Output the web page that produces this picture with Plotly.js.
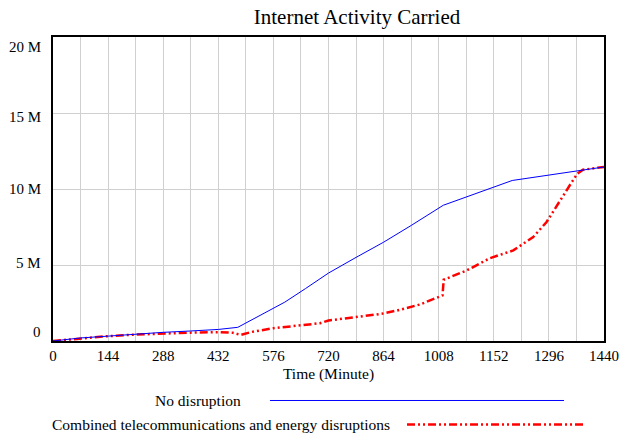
<!DOCTYPE html>
<html>
<head>
<meta charset="utf-8">
<script src="https://cdn.plot.ly/plotly-3.0.1.min.js"></script>
<style>html,body{margin:0;padding:0;background:#fff;}#chart{width:621px;height:434px;}</style>
</head>
<body>
<div id="chart"></div>
<script>
// Time (minutes) and values (millions)
const noDisruptionTime = [0, 24, 72, 144, 216, 288, 360, 432, 483, 540, 606, 660, 720, 792, 864, 936, 1020, 1200, 1296, 1370, 1440];
const noDisruptionValues = [0, 0.08, 0.2, 0.32, 0.45, 0.57, 0.66, 0.76, 0.9, 1.65, 2.56, 3.45, 4.47, 5.5, 6.5, 7.6, 8.93, 10.56, 10.92, 11.2, 11.45];

const combinedTime = [0, 24, 72, 144, 216, 288, 360, 432, 470, 490, 520, 576, 606, 645, 698, 720, 794, 859, 898, 959, 1018, 1021, 1081, 1142, 1203, 1255, 1290, 1325, 1356, 1370, 1385, 1440];
const combinedValues = [0, 0.06, 0.18, 0.32, 0.42, 0.5, 0.55, 0.58, 0.54, 0.4, 0.6, 0.84, 0.91, 1.02, 1.17, 1.35, 1.61, 1.79, 2.0, 2.4, 3.0, 4.03, 4.64, 5.45, 5.96, 6.84, 7.83, 9.26, 10.46, 11.0, 11.27, 11.45];

const xTickVals = [0, 144, 288, 432, 576, 720, 864, 1008, 1152, 1296, 1440];
const yTickVals = [0, 5, 10, 15, 20];
const yTickText = ["0", "5 M", "10 M", "15 M", "20 M"];
const yLabelShift = [9, 2, 0, -4, -10];

const seriesNames = ["No disruption", "Combined telecommunications and energy disruptions"];

const serif = "Liberation Serif";

const traces = [
  {x: combinedTime, y: combinedValues, mode: "lines", name: seriesNames[1],
   line: {color: "#ff0000", width: 2.5, dash: "8px,3px,2px,3px,2px,3px"}, showlegend: false},
  {x: noDisruptionTime, y: noDisruptionValues, mode: "lines", name: seriesNames[0],
   line: {color: "#0000ff", width: 1}, showlegend: false}
];

const annotations = yTickVals.map((v, i) => ({
  x: 0, xref: "paper", y: v, yref: "y", text: yTickText[i], showarrow: false,
  xanchor: "right", yanchor: "middle", xshift: -10, yshift: yLabelShift[i],
  font: {family: serif, size: 15, color: "#000"}
}));

// legend labels
annotations.push({x: 0.3448, xref: "paper", y: -0.1957, yref: "paper", text: seriesNames[0],
  showarrow: false, xanchor: "right", yanchor: "middle", font: {family: serif, size: 15.5, color: "#000"}});
annotations.push({x: 0.6152, xref: "paper", y: -0.2747, yref: "paper", text: seriesNames[1],
  showarrow: false, xanchor: "right", yanchor: "middle", font: {family: serif, size: 15.5, color: "#000"}});

const shapes = [
  {type: "line", xref: "paper", yref: "paper", x0: 0.3938, x1: 0.9274, y0: -0.1957, y1: -0.1957,
   line: {color: "#0000ff", width: 1}},
  {type: "line", xref: "paper", yref: "paper", x0: 0.6425, x1: 0.9619, y0: -0.2747, y1: -0.2747,
   line: {color: "#ff0000", width: 2.5, dash: "8px,3px,2px,3px,2px,3px"}}
];

const layout = {
  width: 621, height: 434,
  margin: {l: 53, r: 17, t: 37, b: 93, pad: 0},
  paper_bgcolor: "#fff", plot_bgcolor: "#fff",
  font: {family: serif, color: "#000"},
  title: {text: "Internet Activity Carried", x: 0.5749, xref: "container", xanchor: "center",
          y: 0.9608, yref: "container", yanchor: "middle", font: {family: serif, size: 21, color: "#000"}},
  xaxis: {
    range: [0, 1440], tickvals: xTickVals, ticks: "", showgrid: true, gridcolor: "#d0d0d0", gridwidth: 1,
    minor: {dtick: 72, showgrid: true, gridcolor: "#d0d0d0", gridwidth: 1},
    showline: true, linecolor: "#000", linewidth: 2, mirror: true, zeroline: false,
    tickfont: {family: serif, size: 15, color: "#000"},
    title: {text: "Time (Minute)", standoff: 5, font: {family: serif, size: 15.5, color: "#000"}}
  },
  yaxis: {
    range: [0, 20], tickvals: yTickVals, showticklabels: false, ticks: "", showgrid: true,
    gridcolor: "#d0d0d0", gridwidth: 1,
    showline: true, linecolor: "#000", linewidth: 2, mirror: true, zeroline: false
  },
  annotations: annotations,
  shapes: shapes,
  showlegend: false
};

Plotly.newPlot("chart", traces, layout, {displayModeBar: false, staticPlot: true});
</script>
</body>
</html>
